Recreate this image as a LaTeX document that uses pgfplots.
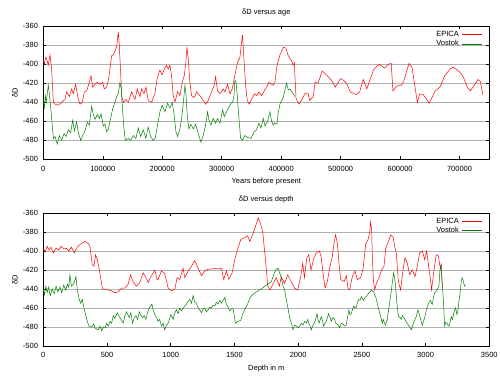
\documentclass[border=0pt]{standalone}
\usepackage{fontspec}
\setmainfont{Liberation Sans}
\usepackage{pgfplots}
\pgfplotsset{compat=1.18}
\definecolor{epica}{RGB}{255,0,0}
\definecolor{vostok}{RGB}{0,128,0}
\definecolor{gridgray}{RGB}{176,176,176}
\newcommand{\fs}{\fontsize{7.5}{9}\selectfont}
\pgfplotsset{
  gp/.style={
    scale only axis, width=446pt, height=133pt,
    ymin=-500, ymax=-360,
    ytick={-500,-480,-460,-440,-420,-400,-380,-360},
    yticklabels={-500,-480,-460,-440,-420,-400,-380,-360},
    ymajorgrids, grid style={gridgray, line width=0.6pt},
    tick align=inside, major tick length=3pt,
    tick style={black, line width=0.5pt},
    axis line style={black, line width=0.6pt},
    scaled x ticks=false, scaled y ticks=false,
    tick label style={font=\fs},
    xticklabel style={yshift=-3pt},
    yticklabel style={xshift=-1.8pt},
    every axis title/.style={font=\fs, at={(axis description cs:0.5,1)}, anchor=center, yshift=13.3pt},
    every axis x label/.style={font=\fs, at={(axis description cs:0.5,0)}, anchor=center, yshift=-22.4pt},
    every axis y label/.style={font=\fs, at={(axis description cs:-0.0635,0.5)}, rotate=90, anchor=center},
    ylabel={δD},
    legend cell align=right,
    legend plot pos=right,
    legend style={at={(axis description cs:1,1)}, anchor=north east, xshift=-6.8pt, yshift=-4pt,
      draw=none, fill=none, inner sep=0pt, outer sep=0pt, font=\fs,
      nodes={inner sep=0.8pt, text height=5.4pt, text depth=1.5pt},
      column sep=2.4pt, row sep=0.8pt},
    legend image code/.code={\draw[#1, line width=0.5pt] (0pt,0pt) -- (20pt,0pt);},
    every axis plot/.append style={line width=0.5pt},
  }
}
\begin{document}
\begin{tikzpicture}
\path[use as bounding box] (0,0) rectangle (500pt,375pt);
% ---------------- top: delta D versus age
\begin{axis}[gp, at={(43.3pt,215.7pt)}, anchor=south west,
  xmin=0, xmax=750000,
  xtick={0,100000,200000,300000,400000,500000,600000,700000},
  xticklabels={0,100000,200000,300000,400000,500000,600000,700000},
  title={δD versus age}, xlabel={Years before present}]
\addplot[epica, no markers] coordinates {
(0,-396) (2000,-400) (3500,-393) (5600,-394) (8400,-401) (11200,-390) (14000,-405)
(16900,-440) (19700,-442) (25300,-443) (30900,-440) (36500,-437) (39300,-429)
(43800,-434) (47700,-426) (50500,-431) (54400,-421) (57800,-434) (61700,-442)
(65600,-440) (69000,-429) (72900,-428) (77400,-419) (80200,-412) (83000,-424)
(86900,-421) (90800,-419) (95300,-421) (99800,-419) (102600,-426) (106500,-424)
(109300,-417) (112100,-405) (114900,-391) (117700,-390) (120500,-386) (123300,-382)
(126100,-366) (127800,-380) (130000,-408) (131700,-433) (134500,-440) (139000,-437)
(142900,-440) (148500,-429) (154100,-437) (158000,-426) (162500,-434) (165300,-426)
(169200,-431) (172500,-424) (176400,-438) (182000,-440) (187600,-431) (191500,-415)
(194900,-408) (196100,-406) (200000,-411) (203400,-405) (207300,-401) (210000,-405)
(212900,-401) (215700,-412) (218500,-433) (221300,-440) (225800,-429) (229700,-433)
(233700,-419) (237000,-412) (239800,-398) (241500,-382) (243700,-394) (246500,-419)
(249300,-433) (253800,-435) (257700,-429) (263300,-433) (268900,-438) (272900,-442)
(277400,-438) (283000,-429) (287400,-422) (289700,-413) (293000,-428) (297000,-431)
(302600,-426) (305400,-429) (309900,-421) (313800,-431) (317700,-426) (321100,-415)
(323900,-406) (326700,-398) (330600,-393) (333400,-377) (335100,-369) (337400,-395)
(340200,-422) (343000,-438) (346300,-442) (350300,-437) (354800,-431) (358700,-433)
(362600,-429) (367100,-433) (371600,-428) (375500,-424) (379400,-419) (383900,-421)
(386700,-422) (389500,-419) (393000,-401) (398000,-390) (404000,-382) (408000,-383)
(412000,-391) (418000,-397) (420000,-401) (422000,-398) (425000,-436) (430000,-442)
(434000,-438) (440000,-431) (445000,-430) (448000,-438) (454000,-434) (457000,-419)
(462000,-420) (469000,-407) (476000,-411) (485000,-417) (491000,-424) (500000,-415)
(505000,-417) (510000,-420) (516000,-429) (526000,-432) (532000,-429) (538000,-416)
(544000,-426) (550000,-415) (556000,-405) (565000,-400) (574000,-404) (580000,-400)
(585000,-399) (588000,-428) (594000,-423) (602000,-422) (606000,-418) (615000,-399)
(620000,-403) (629000,-440) (633000,-431) (639000,-432) (649000,-441) (659000,-428)
(667000,-424) (675000,-412) (684000,-405) (689000,-403) (696000,-406) (700000,-408)
(706000,-413) (713000,-424) (718000,-428) (726000,-421) (731000,-416) (735000,-418)
(739000,-432)
};
\addlegendentry{EPICA}
\addplot[vostok, no markers] coordinates {
(0,-438) (1700,-447) (3400,-433) (5000,-440) (8400,-422) (10000,-430) (12400,-445)
(14000,-457) (16900,-478) (19700,-476) (23600,-484) (27000,-475) (30900,-480)
(34800,-473) (38200,-476) (42100,-469) (46000,-472) (49400,-459) (52200,-470)
(56100,-461) (58900,-472) (62800,-480) (66200,-475) (70100,-470) (74000,-461)
(77400,-464) (81300,-444) (84100,-453) (86900,-458) (90800,-453) (94200,-457)
(97000,-452) (100900,-465) (103700,-463) (106500,-471) (109300,-468) (113200,-457)
(116600,-447) (120500,-440) (123300,-434) (126100,-431) (128900,-419) (131100,-426)
(133400,-449) (135600,-467) (137800,-480) (142900,-478) (146800,-480) (151300,-475)
(155700,-478) (159700,-467) (163600,-476) (168100,-469) (172500,-478) (176400,-466)
(180400,-476) (184900,-480) (188000,-478) (192200,-464) (196100,-450) (200000,-443)
(204500,-450) (209000,-441) (212900,-446) (216800,-440) (220200,-454) (223000,-471)
(225800,-476) (229700,-468) (232600,-457) (235400,-441) (238200,-422) (239800,-430)
(242100,-454) (244900,-468) (248200,-463) (252200,-468) (256100,-463) (260600,-473)
(265100,-482) (269000,-475) (272900,-464) (276300,-450) (278500,-459) (281900,-464)
(285800,-457) (289700,-462) (293000,-457) (297000,-462) (301500,-448) (304300,-455)
(308200,-450) (312100,-445) (315500,-441) (318300,-440) (320600,-433) (322200,-417)
(323900,-418) (326200,-433) (329000,-457) (331800,-478) (334600,-480) (339000,-475)
(343500,-477) (349100,-478) (354800,-471) (358700,-469) (362600,-462) (366000,-467)
(369900,-457) (372700,-465) (377200,-460) (381100,-450) (383900,-460) (386700,-464)
(389000,-462) (393000,-463) (395000,-451) (398000,-442) (400000,-439) (404000,-434)
(407000,-425) (409000,-420) (412000,-427) (415000,-426) (418000,-429) (421000,-432)
(423000,-434)
};
\addlegendentry{Vostok}
\end{axis}
% ---------------- bottom: delta D versus depth
\begin{axis}[gp, at={(43.3pt,29pt)}, anchor=south west,
  xmin=0, xmax=3500,
  xtick={0,500,1000,1500,2000,2500,3000,3500},
  xticklabels={0,500,1000,1500,2000,2500,3000,3500},
  title={δD versus depth}, xlabel={Depth in m}]
\addplot[epica, no markers] coordinates {
(0,-397) (15,-401) (30,-395) (45,-399) (60,-396) (80,-402) (100,-397) (120,-399)
(140,-395) (160,-398) (180,-397) (200,-400) (220,-396) (243,-402) (270,-395)
(300,-392) (327,-390) (353,-392) (366,-395) (374,-404) (384,-414) (397,-416)
(410,-404) (423,-409) (439,-419) (452,-430) (465,-440) (484,-440) (510,-441)
(536,-442) (562,-444) (588,-443) (614,-439) (640,-439) (666,-435) (685,-425)
(706,-433) (732,-437) (758,-433) (784,-423) (805,-428) (823,-433) (849,-426)
(875,-420) (893,-430) (901,-430) (927,-421) (953,-424) (980,-439) (1006,-442)
(1032,-440) (1050,-428) (1071,-430) (1097,-418) (1110,-428) (1137,-421) (1163,-416)
(1189,-410) (1215,-418) (1241,-426) (1267,-421) (1293,-419) (1319,-419) (1345,-418)
(1371,-419) (1398,-418) (1416,-430) (1437,-421) (1456,-430) (1482,-423) (1503,-409)
(1529,-396) (1550,-388) (1576,-386) (1603,-384) (1621,-390) (1647,-381) (1673,-371)
(1686,-365) (1707,-372) (1722,-380) (1744,-410) (1762,-437) (1780,-441) (1801,-435)
(1827,-428) (1853,-437) (1867,-427) (1893,-434) (1919,-425) (1945,-432) (1971,-439)
(1997,-441) (2023,-425) (2036,-413) (2049,-428) (2068,-407) (2083,-404) (2101,-420)
(2120,-409) (2141,-402) (2167,-400) (2180,-406) (2195,-423) (2211,-439) (2229,-432)
(2247,-418) (2268,-406) (2281,-392) (2294,-383) (2308,-392) (2321,-414) (2334,-430)
(2360,-432) (2378,-426) (2391,-439) (2404,-441) (2425,-427) (2446,-421) (2465,-430)
(2491,-428) (2509,-419) (2530,-393) (2548,-388) (2561,-381) (2569,-369) (2577,-378)
(2582,-406) (2590,-430) (2601,-441) (2614,-434) (2635,-428) (2655,-420) (2674,-416)
(2687,-397) (2708,-390) (2726,-383) (2744,-385) (2760,-397) (2770,-402) (2786,-432)
(2804,-441) (2823,-420) (2838,-407) (2857,-413) (2875,-425) (2896,-420) (2917,-427)
(2935,-416) (2953,-402) (2974,-400) (2993,-409) (3008,-400) (3026,-418) (3040,-432)
(3047,-441) (3066,-420) (3084,-404) (3100,-405) (3110,-414) (3118,-418) (3123,-414)
(3128,-432) (3132,-438)
};
\addlegendentry{EPICA}
\addplot[vostok, no markers] coordinates {
(0,-440) (10,-446) (20,-437) (30,-444) (40,-438) (55,-447) (70,-440) (85,-445)
(100,-437) (115,-443) (130,-438) (145,-444) (160,-436) (175,-441) (190,-435)
(200,-438) (209,-425) (220,-437) (235,-435) (245,-432) (256,-427) (266,-440)
(280,-450) (293,-455) (306,-451) (319,-460) (332,-467) (345,-474) (358,-479)
(379,-480) (395,-477) (405,-481) (431,-483) (445,-479) (458,-484) (470,-480)
(484,-481) (497,-476) (510,-479) (523,-474) (536,-476) (549,-468) (562,-471)
(580,-465) (601,-470) (615,-473) (627,-476) (640,-468) (653,-464) (674,-470)
(687,-465) (700,-476) (714,-470) (727,-468) (740,-472) (753,-464) (766,-468)
(779,-470) (792,-468) (805,-472) (818,-465) (831,-460) (852,-456) (863,-462)
(875,-467) (888,-470) (901,-474) (914,-472) (927,-479) (940,-476) (953,-483)
(966,-478) (980,-476) (1001,-467) (1019,-472) (1032,-465) (1045,-462) (1058,-466)
(1071,-460) (1084,-463) (1097,-460) (1110,-458) (1123,-456) (1136,-453) (1150,-451)
(1163,-455) (1176,-447) (1189,-454) (1202,-455) (1215,-460) (1228,-462) (1241,-465)
(1254,-461) (1267,-460) (1280,-464) (1293,-462) (1306,-459) (1319,-460) (1332,-457)
(1345,-458) (1358,-454) (1371,-456) (1385,-452) (1398,-455) (1411,-452) (1424,-449)
(1437,-456) (1450,-459) (1463,-463) (1476,-461) (1490,-461) (1508,-476) (1529,-474)
(1550,-473) (1563,-467) (1576,-463) (1590,-459) (1603,-456) (1620,-450) (1634,-447)
(1660,-444) (1686,-442) (1712,-440) (1738,-437) (1765,-435) (1790,-432) (1808,-425)
(1824,-420) (1842,-418) (1855,-423) (1868,-428) (1881,-437) (1894,-441) (1907,-451)
(1920,-460) (1934,-471) (1947,-476) (1960,-483) (1973,-478) (1986,-479) (1999,-481)
(2012,-479) (2025,-476) (2038,-478) (2051,-474) (2064,-476) (2075,-472) (2085,-477)
(2094,-479) (2103,-483) (2116,-478) (2130,-475) (2148,-466) (2156,-472) (2164,-476)
(2182,-469) (2191,-474) (2200,-479) (2210,-476) (2221,-474) (2239,-466) (2250,-470)
(2260,-474) (2273,-470) (2286,-472) (2295,-476) (2304,-477) (2315,-478) (2325,-481)
(2338,-476) (2351,-477) (2364,-479) (2377,-478) (2390,-468) (2398,-462) (2407,-467)
(2416,-466) (2435,-458) (2446,-460) (2456,-459) (2465,-454) (2474,-451) (2485,-452)
(2495,-448) (2504,-450) (2513,-452) (2524,-449) (2535,-448) (2545,-446) (2556,-444)
(2565,-443) (2574,-441) (2583,-442) (2592,-443) (2600,-446) (2608,-448) (2617,-453)
(2626,-458) (2635,-463) (2644,-467) (2652,-471) (2660,-476) (2667,-472) (2673,-474)
(2680,-477) (2686,-478) (2693,-474) (2699,-472) (2705,-466) (2712,-460) (2722,-450)
(2731,-442) (2740,-432) (2749,-423) (2756,-428) (2762,-433) (2769,-445) (2775,-455)
(2782,-463) (2788,-469) (2800,-470) (2809,-472) (2818,-468) (2828,-470) (2838,-472)
(2849,-475) (2860,-477) (2870,-479) (2880,-481) (2888,-483) (2897,-479) (2907,-475)
(2917,-472) (2927,-469) (2934,-465) (2940,-462) (2950,-466) (2959,-471) (2967,-475)
(2974,-478) (2984,-474) (2993,-470) (3000,-466) (3006,-462) (3015,-458) (3024,-455)
(3032,-453) (3040,-452) (3047,-455) (3053,-456) (3062,-449) (3071,-444) (3080,-443)
(3090,-441) (3098,-439) (3105,-437) (3110,-425) (3116,-416) (3123,-420) (3131,-434)
(3141,-455) (3149,-479) (3158,-475) (3168,-476) (3175,-478) (3183,-479) (3192,-475)
(3202,-469) (3211,-472) (3220,-466) (3229,-462) (3236,-460) (3246,-467) (3254,-463)
(3260,-455) (3267,-448) (3274,-440) (3280,-432) (3287,-428) (3293,-430) (3300,-434)
(3306,-437) (3312,-436)
};
\addlegendentry{Vostok}
\end{axis}
\end{tikzpicture}
\end{document}
